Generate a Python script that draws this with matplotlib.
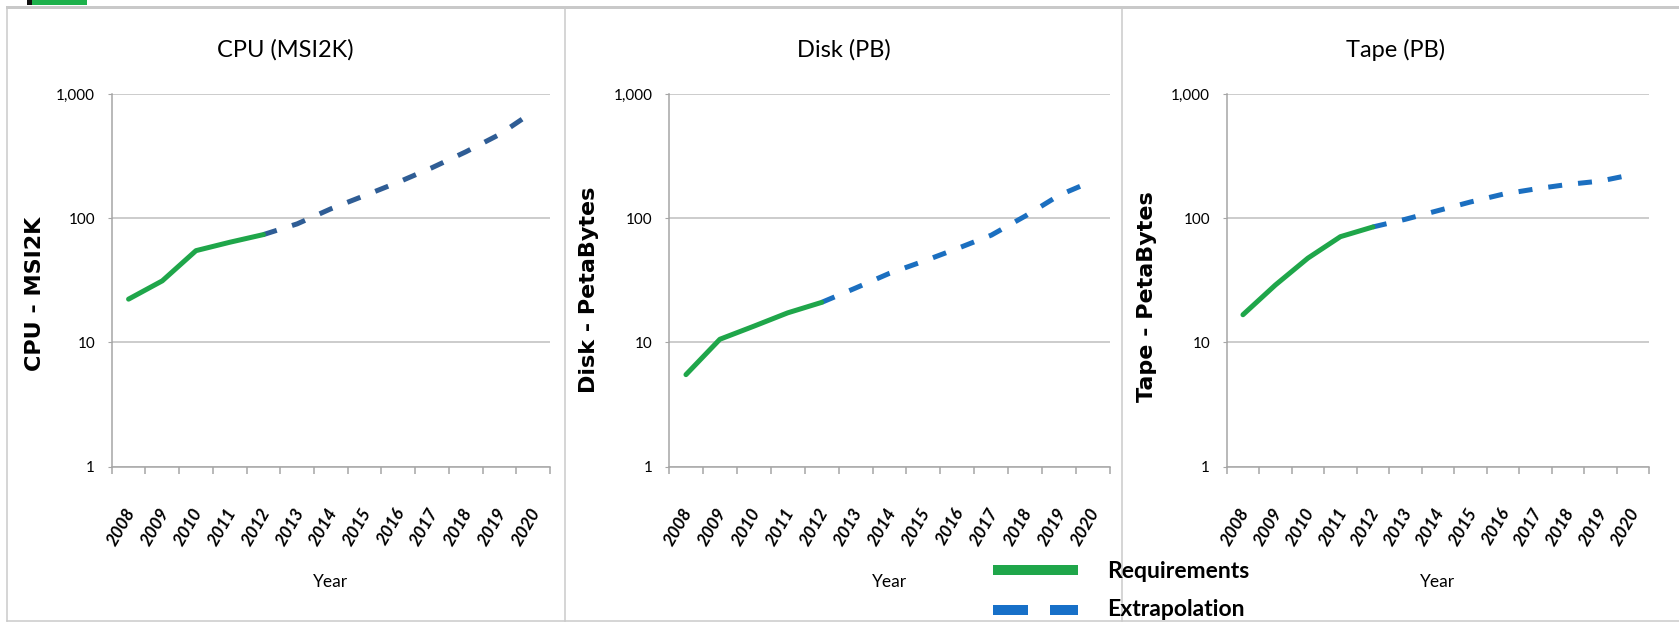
import matplotlib
matplotlib.use("Agg")
import matplotlib.pyplot as plt
import matplotlib.transforms as mtransforms
from matplotlib import font_manager
from matplotlib.lines import Line2D
from matplotlib.patches import Rectangle
from matplotlib.ticker import FixedLocator, FuncFormatter, NullLocator

# ---- data ----
years = ["2008", "2009", "2010", "2011", "2012", "2013", "2014",
         "2015", "2016", "2017", "2018", "2019", "2020"]
req_years = years[:5]          # 2008..2012 requirements
ext_years = years[4:]          # 2012..2020 extrapolation

cpu_req = [22.3, 31.3, 54.8, 64, 73.8]
cpu_ext = [73.8, 90, 119, 152, 195, 255, 342, 472, 720]
disk_req = [5.5, 10.6, 13.5, 17.3, 21]
disk_ext = [21, 27.4, 36, 45, 57, 73, 104, 153, 200]
tape_req = [16.7, 29, 47.7, 71, 85]
tape_ext = [85, 98, 115, 135, 156, 172, 187, 199, 225]

titles = ["CPU (MSI2K)", "Disk (PB)", "Tape (PB)"]
ylabels = ["CPU - MSI2K", "Disk - PetaBytes", "Tape - PetaBytes"]
y_ticks = [1, 10, 100, 1000]

W, H = 1679, 623
GREEN = "#1FA64A"
GRID = "#BFBFBF"
AXIS = "#A6A6A6"
FRAME = "#C9C9C9"

installed = {f.name for f in font_manager.fontManager.ttflist}
NARROW = "Liberation Sans Narrow" if "Liberation Sans Narrow" in installed else "Lato"


def fx(x):
    return x / W


def fy(y):
    return 1 - y / H


fig = plt.figure(figsize=(W / 100, H / 100), dpi=100)

# ---- slide frame and panel dividers ----
frame_lines = [
    ([7, W], [7, 7], 3.0),
    ([7, 7], [7, 621], 1.5),
    ([7, W], [621, 621], 1.5),
    ([565, 565], [7, 621], 1.5),
    ([1122, 1122], [7, 621], 1.5),
]
for xs, ys, lw in frame_lines:
    fig.add_artist(Line2D([fx(v) for v in xs], [fy(v) for v in ys],
                          transform=fig.transFigure, color=FRAME, lw=lw * 0.72))

fig.add_artist(Rectangle((fx(27), fy(5)), fx(5), 5 / H, transform=fig.transFigure,
                         color="#111111", lw=0))
fig.add_artist(Rectangle((fx(32), fy(5)), fx(55), 5 / H, transform=fig.transFigure,
                         color="#1DB14B", lw=0))

# ---- panels ----
panels = [
    (cpu_req, cpu_ext, "#2F5D95", (111.7, 550), 285.5, -0.153, 0.463),
    (disk_req, disk_ext, "#1B6FC0", (669, 1110), 843.5, -0.159, 0.474),
    (tape_req, tape_ext, "#1B6FC0", (1226.7, 1649), 1396, -0.165, 0.455),
]
top, bottom = 94, 466.6
shift = mtransforms.ScaledTranslation(3 / 100, 0, fig.dpi_scale_trans)

for i, (req, ext, blue, (left, right), title_x, ylab_x, ylab_y) in enumerate(panels):
    ax = fig.add_axes([fx(left), fy(bottom), (right - left) / W, (bottom - top) / H])
    xr = [years.index(y) for y in req_years]
    xe = [years.index(y) for y in ext_years]

    ax.plot(xe, ext, color=blue, lw=3.6, dashes=(2.8, 3.2), zorder=2)
    ax.plot(xr, req, color=GREEN, lw=3.6, solid_capstyle="round",
            solid_joinstyle="round", zorder=3)

    ax.set_yscale("log")
    ax.set_ylim(1, 1000)
    ax.set_xlim(-0.5, len(years) - 0.5)
    ax.yaxis.set_major_locator(FixedLocator(y_ticks))
    ax.yaxis.set_minor_locator(NullLocator())
    ax.yaxis.set_major_formatter(FuncFormatter(lambda v, p: f"{v:,.0f}"))
    ax.grid(axis="y", color=GRID, lw=1.1)
    ax.set_axisbelow(True)
    for side in ("top", "right"):
        ax.spines[side].set_visible(False)
    for side in ("left", "bottom"):
        ax.spines[side].set_color(AXIS)
        ax.spines[side].set_linewidth(1.1)

    ax.set_xticks(range(len(years)))
    ax.set_xticklabels(years)
    ax.xaxis.set_minor_locator(FixedLocator([j - 0.5 for j in range(len(years) + 1)]))
    ax.tick_params(axis="x", which="major", length=0, pad=31)
    ax.tick_params(axis="x", which="minor", length=5, color=AXIS, width=1.1)
    ax.tick_params(axis="y", length=3, color=AXIS, pad=9)
    for lab in ax.get_xticklabels():
        lab.set_rotation(60)
        lab.set_ha("right")
        lab.set_va("center")
        lab.set_rotation_mode("anchor")
        lab.set_fontfamily(NARROW)
        lab.set_fontweight("bold")
        lab.set_fontstyle("italic")
        lab.set_fontsize(12.5)
        lab.set_transform(lab.get_transform() + shift)
    for lab in ax.get_yticklabels():
        lab.set_fontfamily(NARROW)
        lab.set_fontsize(11)

    ax.set_ylabel(ylabels[i], fontfamily="DejaVu Sans", fontweight="bold", fontsize=16)
    ax.yaxis.set_label_coords(ylab_x, ylab_y)
    ax.text(0.5, -0.31, "Year", transform=ax.transAxes, ha="center", va="center",
            fontfamily=NARROW, fontsize=12.5)

    fig.text(fx(title_x), fy(50), titles[i], ha="center", va="center",
             fontfamily=NARROW, fontsize=17)

# ---- legend (drawn by hand, partly cut off at the bottom as in the slide) ----
fig.add_artist(Line2D([fx(993), fx(1078)], [fy(570), fy(570)], transform=fig.transFigure,
                      color=GREEN, lw=7.2, solid_capstyle="butt"))
fig.add_artist(Line2D([fx(993), fx(1078)], [fy(610), fy(610)], transform=fig.transFigure,
                      color="#1770C8", lw=7.2, dashes=(3.5, 2.2), dash_capstyle="butt"))
fig.text(fx(1107), fy(572), "Requirements", ha="left", va="center",
         fontfamily=NARROW, fontweight="bold", fontsize=16.5)
fig.text(fx(1107), fy(599), "Extrapolation", ha="left", va="top",
         fontfamily=NARROW, fontweight="bold", fontsize=16.5)

fig.savefig("out.png", dpi=100)
